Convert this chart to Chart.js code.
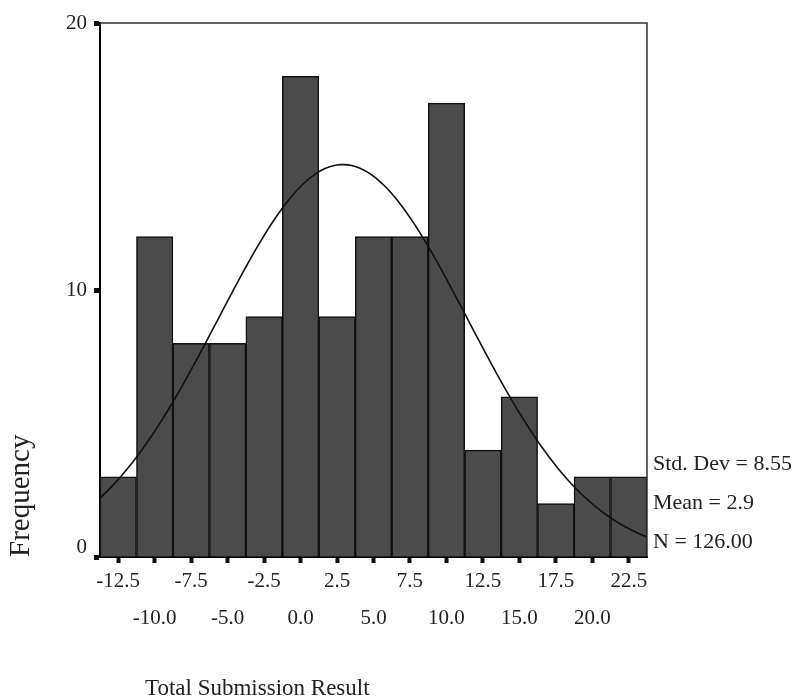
<!DOCTYPE html>
<html>
<head>
<meta charset="utf-8">
<script src="https://cdn.jsdelivr.net/npm/chart.js@4.4.1/dist/chart.umd.min.js"></script>
<style>
  html, body { margin: 0; padding: 0; background: #fff; }
  #wrap { width: 799px; height: 699px; }
</style>
</head>
<body>
<div id="wrap"><canvas id="histChart" width="799" height="699"></canvas></div>
<script>
// histogram bins (midpoints, width 2.5) and their counts
const binWidth = 2.5;
const binCenters = [-12.5, -10, -7.5, -5, -2.5, 0, 2.5, 5, 7.5, 10, 12.5, 15, 17.5, 20, 22.5];
const frequencies = [3, 12, 8, 8, 9, 18, 9, 12, 12, 17, 4, 6, 2, 3, 3];
const binLabels = ['-12.5', '-10.0', '-7.5', '-5.0', '-2.5', '0.0', '2.5', '5.0',
                   '7.5', '10.0', '12.5', '15.0', '17.5', '20.0', '22.5'];
const yTicks = [0, 10, 20];

// summary statistics
const stdDev = 8.55;
const mean = 2.9;
const nCases = 126;

const fontFamily = '"Liberation Serif", "Times New Roman", serif';
const textColor = '#222';

const xMin = binCenters[0] - binWidth / 2;
const xMax = binCenters[binCenters.length - 1] + binWidth / 2;

// normal curve scaled to counts per bin
const normalCurve = [];
const steps = 150;
for (let i = 0; i <= steps; i++) {
    const x = xMin + (xMax - xMin) * i / steps;
    const z = (x - mean) / stdDev;
    const y = nCases * binWidth / (stdDev * Math.sqrt(2 * Math.PI)) * Math.exp(-z * z / 2);
    normalCurve.push({ x, y });
}

const statLines = [
    `Std. Dev = ${stdDev.toFixed(2)}`,
    `Mean = ${mean.toFixed(1)}`,
    `N = ${nCases.toFixed(2)}`
];

// frame on top/right, stats block and x title
const extras = {
    id: 'extras',
    afterDraw(chart) {
        const { ctx, chartArea: a } = chart;
        ctx.save();
        ctx.strokeStyle = '#333';
        ctx.lineWidth = 1.5;
        ctx.beginPath();
        ctx.moveTo(a.left, a.top);
        ctx.lineTo(a.right, a.top);
        ctx.lineTo(a.right, a.bottom);
        ctx.stroke();

        ctx.fillStyle = textColor;
        ctx.font = `22px ${fontFamily}`;
        ctx.textAlign = 'left';
        ctx.textBaseline = 'middle';
        statLines.forEach((t, i) => {
            ctx.fillText(t, a.right + 6, a.bottom - 15 - (statLines.length - 1 - i) * 39);
        });

        ctx.font = `23px ${fontFamily}`;
        ctx.textBaseline = 'alphabetic';
        ctx.fillText('Total Submission Result', 145, 695);
        ctx.restore();
    }
};

const ctx = document.getElementById('histChart').getContext('2d');
new Chart(ctx, {
    type: 'bar',
    data: {
        datasets: [
            {
                type: 'line',
                data: normalCurve,
                borderColor: '#111',
                borderWidth: 1.6,
                pointRadius: 0,
                tension: 0,
                fill: false,
                order: 0
            },
            {
                type: 'bar',
                data: binCenters.map((x, i) => ({ x, y: frequencies[i] })),
                backgroundColor: '#4b4b4b',
                borderColor: '#111',
                borderWidth: 1.5,
                barPercentage: 1,
                categoryPercentage: 1,
                order: 1
            }
        ]
    },
    options: {
        responsive: false,
        animation: false,
        events: [],
        layout: { padding: { top: 23, right: 152, bottom: 0, left: 0 } },
        plugins: { legend: { display: false }, tooltip: { enabled: false } },
        scales: {
            x: {
                type: 'linear',
                min: xMin,
                max: xMax,
                offset: false,
                afterBuildTicks: s => { s.ticks = binCenters.map(v => ({ value: v })); },
                afterFit: s => { s.height = 142; },
                border: { color: '#000', width: 2 },
                grid: { offset: false, drawOnChartArea: false, tickLength: 6, tickWidth: 4, tickColor: '#111' },
                ticks: {
                    autoSkip: false,
                    maxRotation: 0,
                    padding: 0,
                    color: textColor,
                    font: { family: fontFamily, size: 21, lineHeight: 37 / 21 },
                    // labels alternate between two rows
                    callback: (v, i) => i % 2 === 0 ? [binLabels[i], ''] : ['', binLabels[i]]
                }
            },
            y: {
                min: 0,
                max: 20,
                afterBuildTicks: s => { s.ticks = yTicks.map(v => ({ value: v })); },
                afterFit: s => { s.width = 100; },
                border: { color: '#000', width: 2 },
                grid: { drawOnChartArea: false, tickLength: 6, tickWidth: 5, tickColor: '#111' },
                ticks: {
                    padding: 7,
                    color: textColor,
                    font: { family: fontFamily, size: 21, lineHeight: 20 / 21 },
                    callback: v => v === 0 ? ['0', ''] : String(v)
                },
                title: {
                    display: true,
                    text: 'Frequency',
                    align: 'start',
                    color: textColor,
                    font: { family: fontFamily, size: 29 },
                    padding: { top: 4, bottom: 0 }
                }
            }
        }
    },
    plugins: [extras]
});
</script>
</body>
</html>
